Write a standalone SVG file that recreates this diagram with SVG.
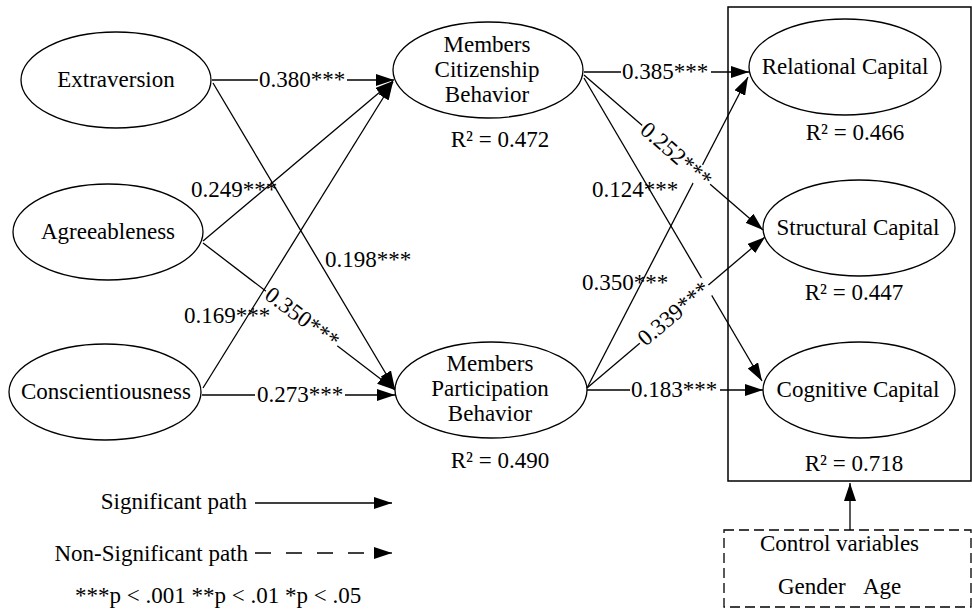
<svg xmlns="http://www.w3.org/2000/svg" width="972" height="611" viewBox="0 0 972 611">
<defs>
<style>
text{font-family:"Liberation Serif","Times New Roman",serif;font-size:23px;fill:#000}
.n{text-anchor:middle}
ellipse{fill:#fff;stroke:#000;stroke-width:1.3}
.e{stroke:#000;stroke-width:1.3;fill:none;marker-end:url(#ah)}
.bg{fill:#fff}
</style>
<marker id="ah" markerUnits="userSpaceOnUse" markerWidth="18" markerHeight="12" refX="18" refY="6" orient="auto">
<path d="M0,0 L18,6 L0,12 Z" fill="#000"/>
</marker>
</defs>
<rect width="972" height="611" fill="#fff"/>

<g id="outcome-box"><rect x="728" y="7" width="243" height="474" fill="none" stroke="#000" stroke-width="1.5"/></g>

<g id="connectors">
<line class="e" x1="212" y1="80" x2="394" y2="80"/>
<line class="e" x1="213" y1="83" x2="395" y2="389"/>
<line class="e" x1="203" y1="241" x2="393" y2="81"/>
<line class="e" x1="203" y1="243" x2="395" y2="390"/>
<line class="e" x1="203" y1="388" x2="393" y2="82"/>
<line class="e" x1="202" y1="395" x2="395" y2="395"/>
<line class="e" x1="584" y1="72" x2="749" y2="72"/>
<line class="e" x1="584" y1="75" x2="763" y2="230"/>
<line class="e" x1="584" y1="78" x2="762" y2="381"/>
<line class="e" x1="587" y1="388" x2="748" y2="77"/>
<line class="e" x1="587" y1="388" x2="765" y2="237"/>
<line class="e" x1="587" y1="390" x2="763" y2="390"/>
<line class="e" x1="850" y1="530" x2="850" y2="483"/>
</g>

<g id="edge-labels">
<rect class="bg" x="258" y="71" width="89" height="19"/>
<text class="n" x="302" y="87">0.380***</text>
<rect class="bg" x="255" y="386" width="90" height="19"/>
<text class="n" x="300" y="402">0.273***</text>
<rect class="bg" x="621" y="63" width="90" height="19"/>
<text class="n" x="665" y="79">0.385***</text>
<rect class="bg" x="630" y="381" width="90" height="19"/>
<text class="n" x="674" y="397">0.183***</text>
<text class="n" x="234" y="197">0.249***</text>
<text class="n" x="368" y="267">0.198***</text>
<text class="n" x="227" y="323">0.169***</text>
<text class="n" x="635" y="197">0.124***</text>
<text class="n" x="625" y="290">0.350***</text>
<g transform="translate(302,318) rotate(37)"><rect class="bg" x="-45" y="-10" width="90" height="20"/><text class="n" x="0" y="7">0.350***</text></g>
<g transform="translate(676,155) rotate(41)"><rect class="bg" x="-45" y="-10" width="90" height="20"/><text class="n" x="0" y="7">0.252***</text></g>
<g transform="translate(674,314) rotate(-40)"><rect class="bg" x="-45" y="-10" width="90" height="20"/><text class="n" x="0" y="7">0.339***</text></g>
</g>

<g id="extraversion"><ellipse cx="116" cy="80" rx="95" ry="48"/><text class="n" x="116" y="87">Extraversion</text></g>
<g id="agreeableness"><ellipse cx="108" cy="232" rx="95" ry="48"/><text class="n" x="108" y="239">Agreeableness</text></g>
<g id="conscientiousness"><ellipse cx="105" cy="392" rx="96" ry="48"/><text class="n" x="106" y="399">Conscientiousness</text></g>

<g id="mcb"><ellipse cx="488" cy="70" rx="95" ry="48"/>
<text class="n" x="487" y="52">Members</text><text class="n" x="487" y="77">Citizenship</text><text class="n" x="487" y="102">Behavior</text>
<text class="n" x="500" y="147">R² = 0.472</text></g>

<g id="mpb"><ellipse cx="491" cy="390" rx="96" ry="48"/>
<text class="n" x="490" y="371">Members</text><text class="n" x="490" y="396">Participation</text><text class="n" x="490" y="421">Behavior</text>
<text class="n" x="500" y="468">R² = 0.490</text></g>

<g id="relational"><ellipse cx="845" cy="67" rx="96" ry="48"/><text class="n" x="845" y="74">Relational Capital</text><text class="n" x="855" y="140">R² = 0.466</text></g>
<g id="structural"><ellipse cx="859" cy="228" rx="96" ry="48"/><text class="n" x="858" y="235">Structural Capital</text><text class="n" x="854" y="300">R² = 0.447</text></g>
<g id="cognitive"><ellipse cx="859" cy="390" rx="96" ry="48"/><text class="n" x="858" y="397">Cognitive Capital</text><text class="n" x="854" y="471">R² = 0.718</text></g>

<g id="control"><rect x="724" y="530" width="247" height="77" fill="none" stroke="#000" stroke-width="1.3" stroke-dasharray="10,5"/>
<text x="760" y="551">Control variables</text><text x="778" y="594">Gender</text><text x="863" y="594">Age</text></g>

<g id="legend">
<text x="247" y="509" text-anchor="end">Significant path</text>
<line class="e" x1="255" y1="503" x2="392" y2="503"/>
<text x="248" y="561" text-anchor="end">Non-Significant path</text>
<line x1="255" y1="553" x2="375" y2="553" stroke="#000" stroke-width="1.3" stroke-dasharray="16,15"/>
<line class="e" x1="374" y1="553" x2="392" y2="553"/>
<text x="75" y="603">***p &lt; .001 **p &lt; .01 *p &lt; .05</text>
</g>
</svg>
